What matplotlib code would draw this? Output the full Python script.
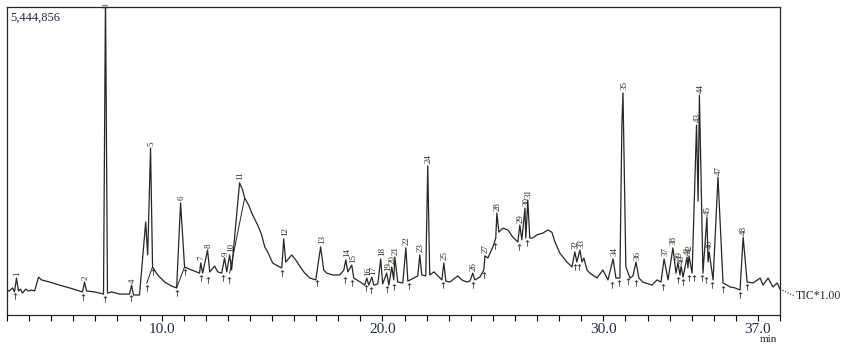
import matplotlib
matplotlib.use('Agg')
import matplotlib.pyplot as plt
from matplotlib.transforms import blended_transform_factory

# TIC trace (time in min, intensity in % of 5,444,856)
times = [3.00, 3.11, 3.25, 3.34, 3.43, 3.52, 3.61, 3.70, 3.84, 3.97, 4.11, 4.25,
         4.43, 4.56, 4.93, 5.38, 5.83, 6.42, 6.51, 6.60, 6.96, 7.37, 7.46, 7.55,
         7.73, 8.10, 8.55, 8.64, 8.73, 9.00, 9.28, 9.37, 9.50, 9.59, 9.82, 10.14,
         10.45, 10.68, 10.86, 11.04, 11.36, 11.72, 11.77, 11.86, 12.08, 12.18,
         12.40, 12.54, 12.72, 12.85, 12.95, 13.08, 13.17, 13.53, 13.67, 13.76,
         13.94, 14.12, 14.35, 14.53, 14.67, 14.80, 15.03, 15.26, 15.44, 15.53,
         15.62, 15.89, 16.07, 16.25, 16.48, 16.71, 16.98, 17.20, 17.34, 17.48,
         17.75, 18.07, 18.25, 18.34, 18.43, 18.61, 18.70, 18.84, 19.06, 19.20,
         19.29, 19.38, 19.52, 19.61, 19.79, 19.92, 20.01, 20.19, 20.29, 20.42,
         20.51, 20.56, 20.69, 20.92, 21.06, 21.15, 21.42, 21.60, 21.69, 21.78,
         21.96, 22.05, 22.14, 22.33, 22.51, 22.69, 22.78, 22.87, 23.05, 23.28,
         23.41, 23.59, 23.82, 23.96, 24.09, 24.18, 24.41, 24.59, 24.64, 24.77,
         25.00, 25.13, 25.18, 25.27, 25.45, 25.68, 25.90, 26.13, 26.22, 26.31,
         26.45, 26.49, 26.58, 26.67, 26.81, 26.99, 27.26, 27.49, 27.67, 27.81,
         28.03, 28.35, 28.58, 28.71, 28.80, 28.94, 29.03, 29.12, 29.26, 29.39,
         29.71, 29.98, 30.21, 30.44, 30.57, 30.75, 30.84, 30.89, 31.02, 31.21,
         31.34, 31.48, 31.61, 31.79, 32.20, 32.43, 32.61, 32.75, 32.93, 33.15,
         33.29, 33.38, 33.47, 33.52, 33.61, 33.79, 33.83, 33.88, 34.02, 34.22,
         34.29, 34.35, 34.51, 34.69, 34.74, 34.79, 34.97, 35.19, 35.42, 35.74,
         35.96, 36.19, 36.33, 36.51, 36.78, 37.10, 37.23, 37.46, 37.68, 37.87, 38.00]
intensity = [8.1, 7.8, 8.8, 7.5, 12.0, 7.8, 8.4, 7.1, 8.4, 7.8, 8.1, 7.8,
             12.3, 11.4, 10.7, 9.7, 8.8, 7.5, 10.7, 7.8, 7.5, 6.8, 104.0, 7.1,
             7.5, 6.8, 6.8, 9.7, 6.5, 6.5, 30.2, 19.5, 54.2, 15.6, 13.0, 10.7,
             9.4, 8.8, 36.4, 15.6, 14.6, 13.6, 16.9, 13.6, 21.1, 14.0,
             15.9, 14.0, 13.6, 18.5, 14.0, 19.5, 14.6, 42.9, 40.6, 38.0,
             35.7, 32.5, 29.2, 26.0, 22.1, 20.5, 16.9, 15.9, 15.3, 24.7,
             17.2, 19.5, 17.9, 15.9, 13.6, 12.0, 11.4, 22.1, 14.6, 13.6,
             13.0, 13.0, 14.6, 17.9, 14.0, 16.2, 12.0, 11.4, 10.4, 9.7,
             12.0, 9.7, 12.3, 9.7, 10.1, 18.2, 10.1, 13.6, 9.7, 15.6,
             11.4, 18.8, 10.7, 10.4, 21.8, 11.0, 12.0, 12.7, 19.5, 13.0,
             12.7, 48.4, 13.0, 14.0, 12.7, 11.4, 16.9, 11.0, 10.7, 12.0,
             12.7, 11.4, 10.7, 11.0, 13.6, 11.4, 12.3, 14.6, 19.2, 18.5,
             22.1, 25.0, 33.1, 26.9, 28.2, 27.6, 25.3, 23.7, 29.2, 24.4,
             34.7, 25.0, 37.3, 25.0, 25.0, 26.0, 26.6, 27.6, 26.9, 23.7,
             20.1, 17.2, 15.6, 20.5, 17.2, 21.1, 17.2, 18.5, 14.6, 13.6,
             12.0, 14.6, 11.4, 18.2, 12.0, 12.0, 62.0, 72.1, 15.6, 12.0,
             12.7, 17.2, 12.0, 10.7, 9.7, 11.4, 10.7, 18.2, 11.4, 21.8,
             13.6, 16.9, 13.0, 15.9, 12.3, 18.8, 15.3, 19.2, 13.6, 61.7,
             37.0, 71.4, 13.6, 31.8, 17.2, 20.5, 11.4, 44.8, 10.4, 9.1,
             8.8, 8.1, 25.3, 10.7, 10.4, 12.0, 9.7, 12.0, 9.1, 10.4, 8.4]

# peak numbers at their apexes
peak_labels = [str(n) for n in range(1, 49)]
peak_times = [3.43, 6.51, 7.46, 8.64, 9.50, 10.86, 11.77, 12.08, 12.85, 13.08,
              13.53, 15.53, 17.20, 18.34, 18.61, 19.29, 19.52, 19.92, 20.19, 20.42,
              20.56, 21.06, 21.69, 22.05, 22.78, 24.09, 24.64, 25.18, 26.22, 26.45,
              26.58, 28.71, 28.94, 30.44, 30.89, 31.48, 32.75, 33.15, 33.38, 33.52,
              33.79, 33.88, 34.22, 34.35, 34.69, 34.79, 35.19, 36.33]
peak_heights = [12.0, 10.7, 99.0, 9.7, 54.2, 36.4, 16.9, 21.1, 18.5, 19.5,
                42.9, 24.7, 22.1, 17.9, 16.2, 12.0, 12.3, 18.2, 13.6, 15.6,
                18.8, 21.8, 19.5, 48.4, 16.9, 13.6, 19.2, 33.1, 29.2, 34.7,
                37.3, 20.5, 21.1, 18.2, 72.1, 17.2, 18.2, 21.8, 16.9, 15.9,
                18.8, 19.2, 61.7, 71.4, 31.8, 20.5, 44.8, 25.3]

# integration marks (peak start / end) and drop baselines
mark_times = [3.35, 6.45, 7.42, 8.62, 9.33, 9.59, 10.68, 11.04, 11.80, 12.08,
              12.80, 13.05, 15.45, 17.05, 18.30, 18.62, 19.25, 19.50, 20.20, 20.50,
              21.20, 22.72, 24.12, 24.60, 25.10, 26.20, 26.55, 28.70, 28.90, 30.40,
              30.72, 31.10, 31.48, 32.70, 33.40, 33.60, 33.90, 34.10, 34.45, 34.65,
              34.90, 35.40, 36.20, 36.50]
mark_levels = [7.8, 7.5, 6.8, 7.0, 10.4, 15.6, 8.8, 15.6, 13.6, 13.0,
               13.6, 13.0, 15.3, 12.0, 13.0, 12.0, 10.4, 9.7, 10.0, 10.7,
               11.0, 11.4, 11.4, 14.6, 24.0, 23.7, 25.0, 17.2, 17.2, 11.4,
               12.0, 12.7, 12.0, 10.7, 13.0, 12.3, 13.6, 13.6, 13.6, 13.0,
               11.4, 10.0, 8.1, 10.7]
drop_lines = [((9.33, 10.4), (9.59, 15.6)),
              ((10.68, 8.8), (11.04, 15.6)),
              ((13.08, 13.6), (13.76, 38.0))]

tick_minutes = list(range(3, 39))
tick_text = {10: '10.0', 20: '20.0', 30: '30.0', 37: '37.0'}

ink = '#262626'
label_col = '#1f2a4a'
serif = ['Liberation Serif', 'DejaVu Serif']

fig = plt.figure(figsize=(8.42, 3.49), dpi=100)
ax = fig.add_axes([0.0083, 0.0974, 0.9181, 0.8826])

ax.plot(times, intensity, color=ink, lw=0.9)
for (a, b) in drop_lines:
    ax.plot([a[0], b[0]], [a[1], b[1]], color=ink, lw=0.7)
ax.scatter(mark_times, [v - 1.6 for v in mark_levels], marker='$\\uparrow$',
           s=22, color=ink, linewidths=0, zorder=3)

for lab, t, h in zip(peak_labels, peak_times, peak_heights):
    ax.text(t + 0.05, h + 0.8, lab, rotation=90, ha='center', va='bottom',
            fontsize=6.5, family=serif, color='#3a2a1a')

ax.set_xlim(3.0, 38.0)
ax.set_ylim(0, 100)
ax.set_yticks([])
ax.set_xticks(tick_minutes)
ax.set_xticklabels([tick_text.get(m, '') for m in tick_minutes],
                   family=serif, fontsize=11, color=label_col)
ax.tick_params(axis='x', direction='out', length=4, width=0.8, pad=2)
for s in ax.spines.values():
    s.set_linewidth(0.9)
    s.set_color(ink)

ax.text(0.004, 0.985, '5,444,856', transform=ax.transAxes, ha='left', va='top',
        fontsize=9, family=serif, color=label_col)

tr = blended_transform_factory(ax.transAxes, ax.transData)
ax.plot([1.0, 1.018], [8.4, 6.3], transform=tr, clip_on=False,
        color=ink, lw=0.8, ls=(0, (1, 1.5)))
ax.text(1.02, 6.3, 'TIC*1.00', transform=tr, ha='left', va='center',
        fontsize=8.5, family=serif, color=ink)
fig.text(768 / 842, 1 - 340 / 349, 'min', ha='center', va='center',
         fontsize=8, family=serif, color=ink)

fig.savefig('out.png', dpi=100)
